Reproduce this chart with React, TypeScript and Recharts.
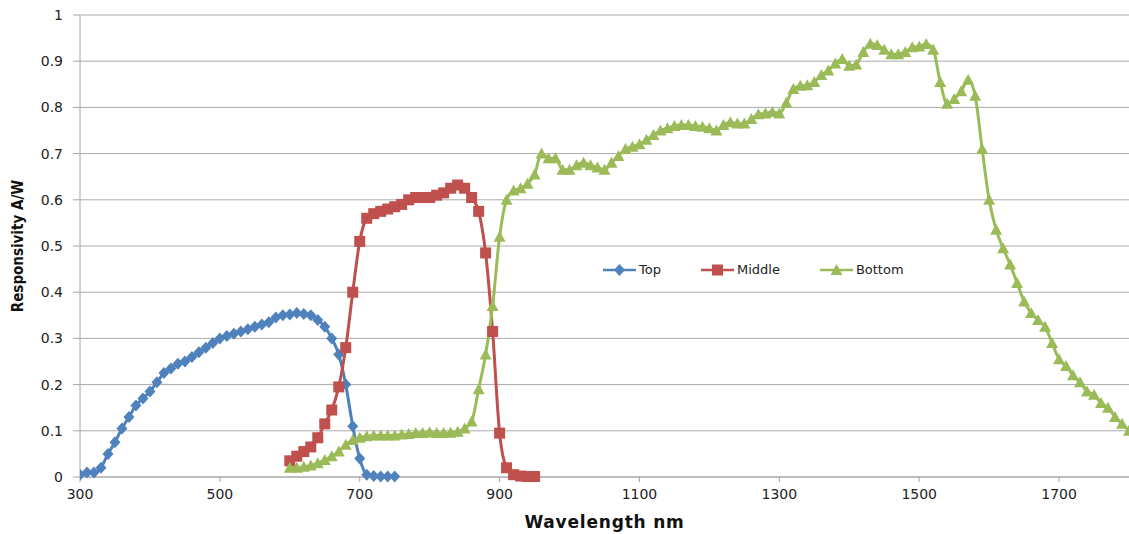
import { CartesianGrid, Legend, Line, LineChart, XAxis, YAxis } from 'recharts';

// wavelength grid: every series is sampled in 10 nm steps
const step = 10;

const topStart = 300;
const topValues = [
  0.005, 0.01, 0.01, 0.02, 0.05, 0.075, 0.105, 0.13, 0.155, 0.17,
  0.185, 0.205, 0.225, 0.235, 0.245, 0.25, 0.26, 0.27, 0.28, 0.29,
  0.3, 0.305, 0.31, 0.315, 0.32, 0.325, 0.33, 0.335, 0.345, 0.35,
  0.352, 0.355, 0.353, 0.35, 0.34, 0.325, 0.3, 0.265, 0.2, 0.11,
  0.04, 0.005, 0.002, 0.001, 0.001, 0.001,
];

const middleStart = 600;
const middleValues = [
  0.035, 0.045, 0.055, 0.065, 0.085, 0.115, 0.145, 0.195, 0.28, 0.4,
  0.51, 0.56, 0.57, 0.575, 0.58, 0.585, 0.59, 0.6, 0.605, 0.605,
  0.605, 0.61, 0.615, 0.625, 0.632, 0.625, 0.605, 0.575, 0.485, 0.315,
  0.095, 0.02, 0.005, 0.002, 0.001, 0.001,
];

const bottomStart = 600;
const bottomValues = [
  0.02, 0.02, 0.022, 0.025, 0.03, 0.037, 0.045, 0.055, 0.07, 0.08,
  0.085, 0.088, 0.09, 0.09, 0.09, 0.09, 0.092, 0.093, 0.095, 0.095,
  0.097, 0.095, 0.095, 0.096, 0.098, 0.105, 0.12, 0.19, 0.265, 0.37,
  0.52, 0.6, 0.62, 0.625, 0.635, 0.655, 0.7, 0.69, 0.69, 0.665,
  0.665, 0.675, 0.68, 0.675, 0.67, 0.665, 0.68, 0.695, 0.71, 0.715,
  0.72, 0.73, 0.74, 0.75, 0.755, 0.76, 0.762, 0.762, 0.76, 0.758,
  0.755, 0.75, 0.762, 0.768, 0.765, 0.765, 0.775, 0.785, 0.787, 0.79,
  0.787, 0.81, 0.84, 0.847, 0.848, 0.855, 0.87, 0.88, 0.895, 0.905,
  0.89, 0.893, 0.92, 0.938, 0.935, 0.925, 0.915, 0.915, 0.92, 0.93,
  0.932, 0.937, 0.925, 0.855, 0.808, 0.818, 0.835, 0.86, 0.825, 0.71,
  0.6, 0.535, 0.495, 0.46, 0.42, 0.38, 0.355, 0.34, 0.325, 0.29,
  0.255, 0.24, 0.22, 0.205, 0.185, 0.178, 0.16, 0.15, 0.13, 0.115,
  0.1,
];

const xTicks = [300, 500, 700, 900, 1100, 1300, 1500, 1700];
const yTicks = [0, 0.1, 0.2, 0.3, 0.4, 0.5, 0.6, 0.7, 0.8, 0.9, 1];

const toPoints = (start: number, values: number[]) =>
  values.map((v, i) => ({ nm: start + i * step, value: v }));

const COLORS = { Top: '#4F81BD', Middle: '#C0504D', Bottom: '#9BBB59' };
const FONT = '"DejaVu Sans", sans-serif';

const drawMarker = (name: string, cx: number, cy: number, key?: string) => {
  const c = COLORS[name as keyof typeof COLORS];
  if (name === 'Top') {
    return <polygon key={key} points={`${cx},${cy - 6} ${cx + 5.5},${cy} ${cx},${cy + 6} ${cx - 5.5},${cy}`} fill={c} />;
  }
  if (name === 'Middle') {
    return <rect key={key} x={cx - 5.5} y={cy - 5.5} width={11} height={11} fill={c} />;
  }
  return <polygon key={key} points={`${cx},${cy - 6} ${cx + 6},${cy + 5} ${cx - 6},${cy + 5}`} fill={c} />;
};

const markerDot = (name: string) => (props: any) => {
  const { cx, cy, index } = props;
  if (cx == null || cy == null) return <g key={`${name}-${index}`} />;
  return drawMarker(name, cx, cy, `${name}-${index}`);
};

const LegendBox = () => (
  <div style={{ display: 'flex', gap: 40, fontFamily: FONT, fontSize: 13, color: '#222' }}>
    {Object.keys(COLORS).map((name) => (
      <div key={name} style={{ display: 'flex', alignItems: 'center' }}>
        <svg width={36} height={12}>
          <line x1={0} y1={6} x2={33} y2={6} stroke={COLORS[name as keyof typeof COLORS]} strokeWidth={2.5} />
          {drawMarker(name, 16.5, 6)}
        </svg>
        <span>{name}</span>
      </div>
    ))}
  </div>
);

const YLabel = (props: any) => {
  const vb = props.viewBox || { x: 0, y: 0, height: 0 };
  const x = vb.x + 18;
  const y = vb.y + vb.height / 2;
  return (
    <text x={x} y={y} transform={`rotate(-90 ${x} ${y})`} textAnchor="middle" dominantBaseline="middle"
      style={{ fontFamily: '"Liberation Sans Narrow", "DejaVu Sans Condensed", sans-serif', fontWeight: 'bold', fontSize: 15, fill: '#111' }}>
      Responsivity A/W
    </text>
  );
};

export default function App() {
  return (
    <div style={{ width: 1129, height: 534, background: '#fff' }}>
      <style>{'body{margin:0}'}</style>
      <LineChart width={1129} height={534} margin={{ top: 15, right: 0, bottom: 0, left: 0 }}>
        <CartesianGrid vertical={false} stroke="#ABABAB" strokeWidth={1} />
        <XAxis
          type="number"
          dataKey="nm"
          domain={[300, 1800]}
          ticks={xTicks}
          allowDataOverflow
          height={57}
          stroke="#A6A6A6"
          tickSize={5}
          tickMargin={7}
          tick={{ fill: '#222', fontFamily: FONT, fontSize: 14 }}
          label={{ value: 'Wavelength nm', position: 'insideBottom', offset: 6, style: { fontFamily: FONT, fontWeight: 'bold', fontSize: 17, letterSpacing: 0.8, fill: '#111' } }}
        />
        <YAxis
          type="number"
          domain={[0, 1]}
          ticks={yTicks}
          width={80}
          stroke="#A6A6A6"
          tickSize={7}
          tickMargin={10}
          tick={{ fill: '#222', fontFamily: FONT, fontSize: 14 }}
          label={{ content: YLabel }}
        />
        <Legend
          layout="horizontal"
          verticalAlign="middle"
          align="center"
          content={LegendBox}
          wrapperStyle={{ left: 603, top: 262, width: 'auto' }}
        />
        <Line name="Top" data={toPoints(topStart, topValues)} dataKey="value" type="monotone"
          stroke={COLORS.Top} strokeWidth={3} dot={markerDot('Top')} activeDot={false} isAnimationActive={false} />
        <Line name="Middle" data={toPoints(middleStart, middleValues)} dataKey="value" type="monotone"
          stroke={COLORS.Middle} strokeWidth={3} dot={markerDot('Middle')} activeDot={false} isAnimationActive={false} />
        <Line name="Bottom" data={toPoints(bottomStart, bottomValues)} dataKey="value" type="monotone"
          stroke={COLORS.Bottom} strokeWidth={3} dot={markerDot('Bottom')} activeDot={false} isAnimationActive={false} />
      </LineChart>
    </div>
  );
}
